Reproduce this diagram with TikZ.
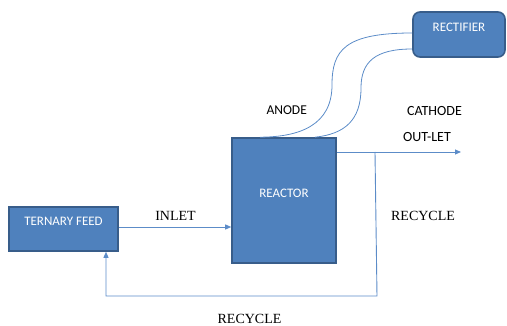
\documentclass[tikz,border=0pt]{standalone}
\usepackage{fontspec}
\setmainfont{Liberation Serif}
\newfontfamily\calib{Carlito}
\usepackage{tikz}
\usetikzlibrary{positioning, arrows.meta, calc}

\definecolor{unitblue}{RGB}{79,129,189}
\definecolor{unitline}{RGB}{56,93,138}
\definecolor{pipeblue}{RGB}{92,140,200}

\begin{document}
\begin{tikzpicture}[
  x=1pt, y=-1pt,
  unit/.style={rectangle, draw=unitline, fill=unitblue, line width=1.6pt, text=white,
    font=\calib\fontsize{13}{15}\selectfont, text height=9pt, text depth=15pt},
  flow/.style={draw=pipeblue, line width=0.9pt, -{Triangle[length=6pt, width=5pt]}},
  wire/.style={draw=pipeblue, line width=0.8pt},
  tag/.style={font=\calib\fontsize{14}{16}\selectfont, anchor=base},
  stream/.style={font=\fontsize{14}{16}\selectfont, anchor=base},
]
  \useasboundingbox (0,0) rectangle (507,326);

  % process units
  \node[unit, minimum width=109pt, minimum height=44pt] (feed) at (63.5,229) {TERNARY FEED};
  \node[unit, minimum width=104pt, minimum height=125pt] (reactor) at (284,200.5) {REACTOR};
  \node[unit, rounded corners=7pt, minimum width=92pt, minimum height=45pt] (rectifier) at (459,34.5) {RECTIFIER};

  % feed into the reactor
  \draw[flow] ([yshift=2pt]feed.east) -- ([yshift=2pt]feed.east -| reactor.west);
  \node[stream] (inlet) at (175.5,221) {INLET};

  % product line and recycle loop
  \coordinate (tap) at (375,152);
  \coordinate (outend) at (461,152);
  \coordinate (drop) at (377,296);
  \coordinate (back) at (106,296);
  \draw[flow] (reactor.east |- tap) -- (outend);
  \draw[flow] (tap) -- (drop) -- (back) -- (back |- feed.south);

  \node[tag] (outlet) at (427,142) {OUT-LET};
  \node[tag] (cathode) at (434.5,116) {CATHODE};
  \node[stream] (recR) at (423,221) {RECYCLE};
  \node[stream] (recB) at (249.5,324) {RECYCLE};

  % electrode leads from the rectifier
  \draw[wire] ([yshift=1.5pt]rectifier.west) .. controls (345,33) and (332,50) .. (332,85)
    .. controls (332,125) and (300,137) .. ([xshift=-24pt]reactor.north);
  \draw[wire] ([yshift=-14.5pt]rectifier.west) .. controls (375,49) and (361,62) .. (361,88)
    .. controls (361,120) and (345,134) .. ([xshift=31pt]reactor.north);
  \node[tag, font=\calib\fontsize{13.5}{16}\selectfont] (anode) at (286.7,115) {ANODE};
\end{tikzpicture}
\end{document}
